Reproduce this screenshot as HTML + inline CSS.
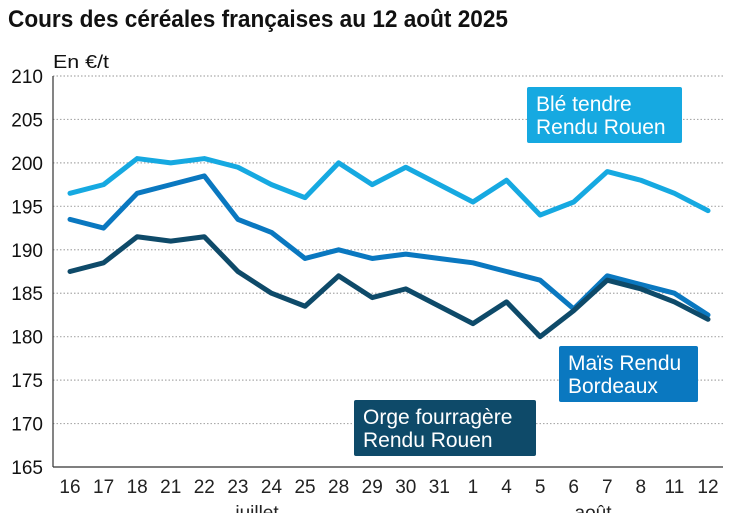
<!DOCTYPE html>
<html><head><meta charset="utf-8"><style>
html,body{margin:0;padding:0;background:#fff;}
svg{display:block;font-family:"Liberation Sans",sans-serif;}
</style></head><body>
<svg id="chart" width="747" height="513" viewBox="0 0 747 513">
<text x="8" y="27" font-size="24" font-weight="bold" fill="#111" textLength="500" lengthAdjust="spacingAndGlyphs">Cours des céréales françaises au 12 août 2025</text>
<text x="53" y="68" font-size="18" fill="#111" textLength="56" lengthAdjust="spacingAndGlyphs">En €/t</text>
<g id="grid"></g>
<g id="axes"></g>
<g id="lines"></g>
<g id="labels"></g>
</svg>
<script>
const categories=["16","17","18","21","22","23","24","25","28","29","30","31","1","4","5","6","7","8","11","12"];
const bleValues=[196.5,197.5,200.5,200,200.5,199.5,197.5,196,200,197.5,199.5,197.5,195.5,198,194,195.5,199,198,196.5,194.5];
const maisValues=[193.5,192.5,196.5,197.5,198.5,193.5,192,189,190,189,189.5,189,188.5,187.5,186.5,183.2,187,186,185,182.5];
const orgeValues=[187.5,188.5,191.5,191,191.5,187.5,185,183.5,187,184.5,185.5,183.5,181.5,184,180,183,186.5,185.5,184,182];
const yTicks=[165,170,175,180,185,190,195,200,205,210];
const yMin=165,yMax=210,yTop=76,yBot=467,xFirst=70,xLast=708;
const NS="http://www.w3.org/2000/svg";
function y(v){return yBot-(v-yMin)/(yMax-yMin)*(yBot-yTop);}
function x(i){return xFirst+i*(xLast-xFirst)/(categories.length-1);}
function mk(tag,attrs,parent){const e=document.createElementNS(NS,tag);for(const k in attrs)e.setAttribute(k,attrs[k]);parent.appendChild(e);return e;}
const grid=document.getElementById('grid'),axes=document.getElementById('axes'),lines=document.getElementById('lines'),labels=document.getElementById('labels');
yTicks.forEach(t=>{
  if(t>yMin){const l=mk('line',{x1:53,x2:723,y1:y(t),y2:y(t),stroke:'#aaa','stroke-width':1.2,'stroke-dasharray':'1.5 2'},grid);
  
  }
  const tx=mk('text',{x:43,y:y(t)+7,'font-size':19,'text-anchor':'end',fill:'#111'},axes);
  tx.textContent=t;
  
  
});
const ya=mk('line',{x1:53,x2:53,y1:yTop,y2:yBot,stroke:'#333','stroke-width':1.2},axes);


const xa=mk('line',{x1:53,x2:723,y1:yBot,y2:yBot,stroke:'#333','stroke-width':1.2},axes);


categories.forEach((c,i)=>{
  const tx=mk('text',{x:x(i),y:493,'font-size':19,'text-anchor':'middle',fill:'#222'},axes);
  tx.textContent=c;
  
  
});
[["juillet",257],["août",593]].forEach(m=>{
  const tx=mk('text',{x:m[1],y:519,'font-size':19,'text-anchor':'middle',fill:'#222'},axes);
  tx.textContent=m[0];
  
  
});
function series(vals,color,name){
  const p=mk('polyline',{points:vals.map((v,i)=>x(i)+','+y(v)).join(' '),fill:'none',stroke:color,'stroke-width':5,'stroke-linejoin':'round','stroke-linecap':'round'},lines);
  
  
}
series(bleValues,'#16a9e1','line-ble-tendre');
series(maisValues,'#0a78c0','line-mais');
series(orgeValues,'#0e4a69','line-orge');
function box(x0,y0,w,h,color,l1,l2,name){
  const g=mk('g',{},labels);
  
  
  mk('rect',{x:x0,y:y0,width:w,height:h,rx:2,fill:color},g);
  const t1=mk('text',{x:x0+9,y:y0+24,'font-size':21,fill:'#fff'},g);t1.textContent=l1;
  const t2=mk('text',{x:x0+9,y:y0+47,'font-size':21,fill:'#fff'},g);t2.textContent=l2;
}
box(527,87,155,56,'#16a9e1','Blé tendre','Rendu Rouen','legend-ble-tendre');
box(559,346,139,56,'#0a78c0','Maïs Rendu','Bordeaux','legend-mais');
box(354,400,182,56,'#0e4a69','Orge fourragère','Rendu Rouen','legend-orge');
</script>
</body></html>
